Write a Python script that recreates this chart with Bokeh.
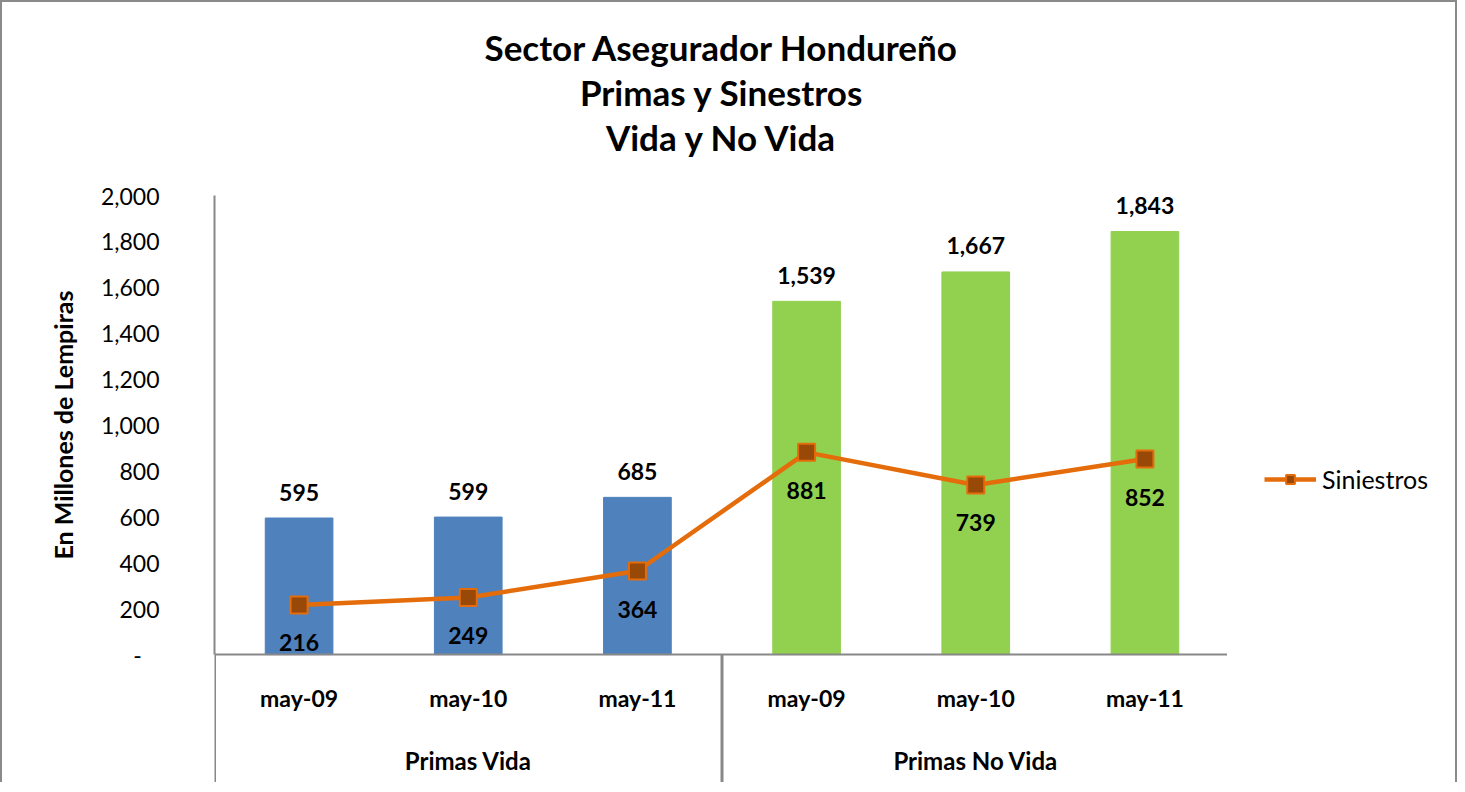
from bokeh.plotting import figure
from bokeh.layouts import row
from bokeh.models import (FactorRange, Range1d, FixedTicker, NumeralTickFormatter, Span,
                          Legend, LegendItem, Title, ColumnDataSource)
from bokeh.core.properties import value
from bokeh.embed import file_html
from bokeh.resources import INLINE

# ---------------- data ----------------
groups = ["Primas Vida", "Primas No Vida"]
periods = ["may-09", "may-10", "may-11"]
primas = [595, 599, 685, 1539, 1667, 1843]
siniestros = [216, 249, 364, 881, 739, 852]
bar_colors = ["#4F81BD", "#4F81BD", "#4F81BD", "#92D050", "#92D050", "#92D050"]
y_ticks = [0, 200, 400, 600, 800, 1000, 1200, 1400, 1600, 1800, 2000]
title_lines = ["Sector Asegurador Hondureño", "Primas y Sinestros", "Vida y No Vida"]
y_label = "En Millones de Lempiras"
series_name = "Siniestros"

FONT = "Lato"
BORDER = "2px solid #8a8a8a"
LINE_COLOR = "#E46C0A"
MARKER_FILL = "#984807"
factors = [(g, p) for g in groups for p in periods]

src = ColumnDataSource(dict(
    x=factors,
    primas=primas,
    siniestros=siniestros,
    color=bar_colors,
    primas_lbl=[f"{v:,}" for v in primas],
    sin_lbl=[f"{v:,}" for v in siniestros],
    per=[p for _, p in factors],
    zero=[0] * len(factors),
))

Y_BOTTOM = -566
H = 782
p = figure(
    width=1227, height=H,
    x_range=FactorRange(*factors, factor_padding=0, group_padding=0, range_padding=0),
    y_range=Range1d(Y_BOTTOM, y_ticks[-1]),
    output_backend="svg", toolbar_location=None,
    min_border_left=212, min_border_right=0, min_border_top=193, min_border_bottom=0,
)
p.styles = {"border-top": BORDER, "border-left": BORDER}
p.xaxis.visible = False
p.xgrid.visible = False
p.ygrid.visible = False
p.outline_line_color = None

# spacer between plot and the title block, then titles (innermost first)
p.add_layout(Title(text=" ", text_font_size="28px", standoff=4), "above")
for line in reversed(title_lines):
    p.add_layout(Title(text=line, align="center", text_font=FONT, text_font_size="35px",
                       text_font_style="bold", text_color="#000000", standoff=1), "above")

# y axis
ax = p.yaxis[0]
ax.bounds = (y_ticks[0], y_ticks[-1])
ax.ticker = FixedTicker(ticks=y_ticks)
ax.formatter = NumeralTickFormatter(format="0,0")
ax.major_label_overrides = {0: "-\u00a0\u00a0\u00a0"}
ax.major_tick_line_color = None
ax.minor_tick_line_color = None
ax.major_tick_out = 0
ax.major_tick_in = 0
ax.major_label_standoff = 55
ax.axis_line_color = "#888888"
ax.axis_line_width = 2
ax.major_label_text_font = FONT
ax.major_label_text_font_size = "23px"
ax.major_label_text_color = "#000000"

# y axis title, placed over the 0..2000 part of the axis
p.add_layout(Title(text=y_label, align="right", offset=95, text_font=FONT,
                   text_font_size="25px", text_font_style="bold", text_color="#000000",
                   standoff=40), "left")

# bars
p.vbar(x="x", top="primas", width=0.4, color="color", source=src)

# category axis lines
p.add_layout(Span(location=0, dimension="width", line_color="#888888", line_width=2))
n = len(periods)
bounds = [n * i for i in range(len(groups) + 1)]
p.segment(x0=bounds, x1=bounds, y0=[0] * len(bounds), y1=[Y_BOTTOM] * len(bounds),
          line_color="#888888", line_width=3)

# category labels
p.text(x="x", y="zero", text="per", source=src, y_offset=43, text_align="center",
       text_baseline="middle", text_font=value(FONT), text_font_size="23px",
       text_font_style="bold", text_color="#000000")
p.text(x=groups, y=[0] * len(groups), text=groups, y_offset=106, text_align="center",
       text_baseline="middle", text_font=value(FONT), text_font_size="24px",
       text_font_style="bold", text_color="#000000")

# bar value labels
p.text(x="x", y="primas", text="primas_lbl", source=src, y_offset=-26, text_align="center",
       text_baseline="middle", text_font=value(FONT), text_font_size="23px",
       text_font_style="bold", text_color="#000000")

# siniestros line
p.line(x="x", y="siniestros", source=src, line_color=LINE_COLOR, line_width=4.5)
p.scatter(x="x", y="siniestros", source=src, marker="square", size=17,
          fill_color=MARKER_FILL, line_color=LINE_COLOR, line_width=2)
p.text(x="x", y="siniestros", text="sin_lbl", source=src, y_offset=38, text_align="center",
       text_baseline="middle", text_font=value(FONT), text_font_size="23px",
       text_font_style="bold", text_color="#000000")

# legend panel (right margin of the chart); proxy renderers lie outside the visible range
q = figure(width=230, height=H, x_range=Range1d(0, 1), y_range=Range1d(0, 1),
           output_backend="svg", toolbar_location=None,
           min_border_left=0, min_border_right=0, min_border_top=0, min_border_bottom=0)
q.styles = {"border-top": BORDER, "border-right": BORDER}
q.axis.visible = False
q.grid.visible = False
q.outline_line_color = None
proxy = ColumnDataSource(dict(x=[-10, -11], y=[-10, -11]))
lq = q.line(x="x", y="y", source=proxy, line_color=LINE_COLOR, line_width=4.5)
mq = q.scatter(x="x", y="y", source=proxy, marker="square", size=17,
               fill_color=MARKER_FILL, line_color=LINE_COLOR, line_width=2)
legend = Legend(items=[LegendItem(label=series_name, renderers=[lq, mq])],
                location=(33, 286), glyph_width=52, glyph_height=22, label_standoff=6,
                padding=4, margin=0, border_line_alpha=0, background_fill_alpha=0,
                label_text_font=FONT, label_text_font_size="25px", label_text_color="#000000")
q.add_layout(legend, "center")

layout = row(p, q, spacing=0)
open("out.html", "w").write(file_html(layout, INLINE))
